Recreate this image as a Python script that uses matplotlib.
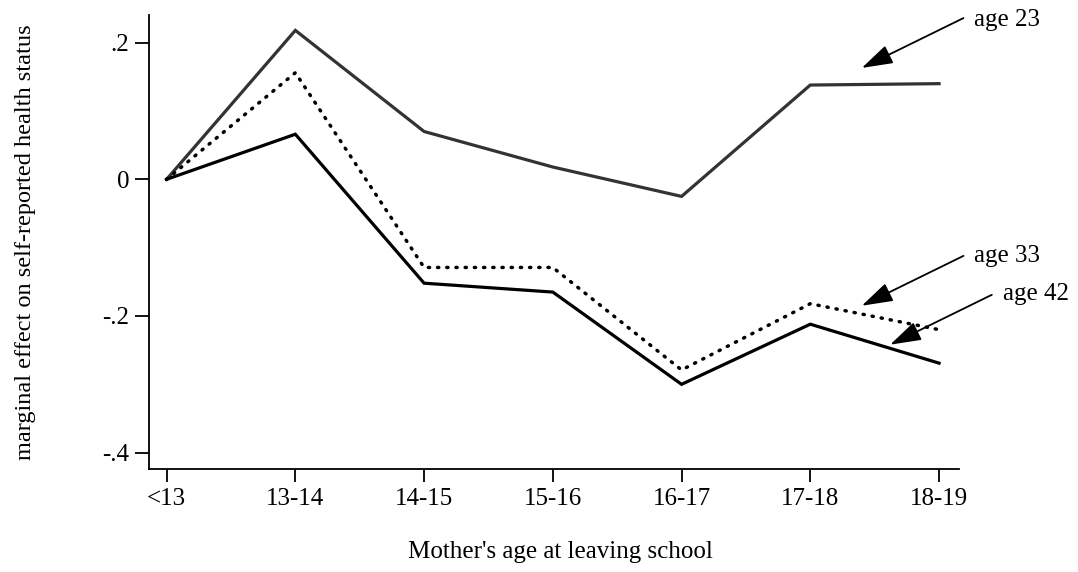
import matplotlib
matplotlib.use("Agg")
import matplotlib.pyplot as plt
import numpy as np

plt.rcParams['font.family'] = ['Liberation Serif', 'DejaVu Serif']

categories = ['<13', '13-14', '14-15', '15-16', '16-17', '17-18', '18-19']
age23 = [0.0, 0.218, 0.070, 0.018, -0.025, 0.138, 0.140]
age33 = [0.0, 0.156, -0.129, -0.129, -0.279, -0.182, -0.220]
age42 = [0.0, 0.066, -0.152, -0.165, -0.300, -0.212, -0.269]

y_ticks = [0.2, 0.0, -0.2, -0.4]
y_ticklabels = ['.2', '0', '-.2', '-.4']

fig = plt.figure(figsize=(10.78, 5.72), dpi=100)
ax = fig.add_axes([0.1382, 0.1801, 0.7514, 0.7937])

x = np.arange(len(categories))
ax.plot(x, age23, color='#333333', lw=2.3, solid_joinstyle='miter')
ax.plot(x, age33, color='black', lw=2.5, linestyle=(0, (0.35, 2.3)),
        dash_capstyle='round')
ax.plot(x, age42, color='black', lw=2.3, solid_joinstyle='miter')

ax.set_xlim(-0.137, 6.155)
ax.set_ylim(-0.4239, 0.2405)

ax.set_xticks(x)
ax.set_xticklabels(categories)
ax.set_yticks(y_ticks)
ax.set_yticklabels(y_ticklabels)

for s in ['top', 'right']:
    ax.spines[s].set_visible(False)
for s in ['left', 'bottom']:
    ax.spines[s].set_linewidth(1.3)

ax.tick_params(axis='x', direction='out', length=9, width=1.3, pad=5, labelsize=18)
ax.tick_params(axis='y', direction='out', length=10, width=1.3, pad=4, labelsize=18)

fig.text(560 / 1078, 1 - 552 / 572, "Mother's age at leaving school",
         ha='center', va='center', fontsize=18)
fig.text(26 / 1078, 1 - 242 / 572, 'marginal effect on self-reported health status',
         ha='center', va='center', rotation=90, fontsize=17.5)

# labels with arrows: (text, text position, arrow start, arrow tip)
notes = [
    ('age 23', (6.27, 0.233), (6.19, 0.236), (5.40, 0.163)),
    ('age 33', (6.27, -0.112), (6.19, -0.112), (5.40, -0.185)),
    ('age 42', (6.50, -0.168), (6.41, -0.169), (5.62, -0.242)),
]
for label, tpos, start, tip in notes:
    ax.text(tpos[0], tpos[1], label, ha='left', va='center', fontsize=18,
            clip_on=False)
    ax.annotate('', xy=tip, xytext=start, annotation_clip=False,
                arrowprops=dict(arrowstyle='-|>,head_length=1.6,head_width=0.5',
                                color='black', lw=1.3, shrinkA=0, shrinkB=0,
                                mutation_scale=12))

fig.savefig('out.png', dpi=100)
